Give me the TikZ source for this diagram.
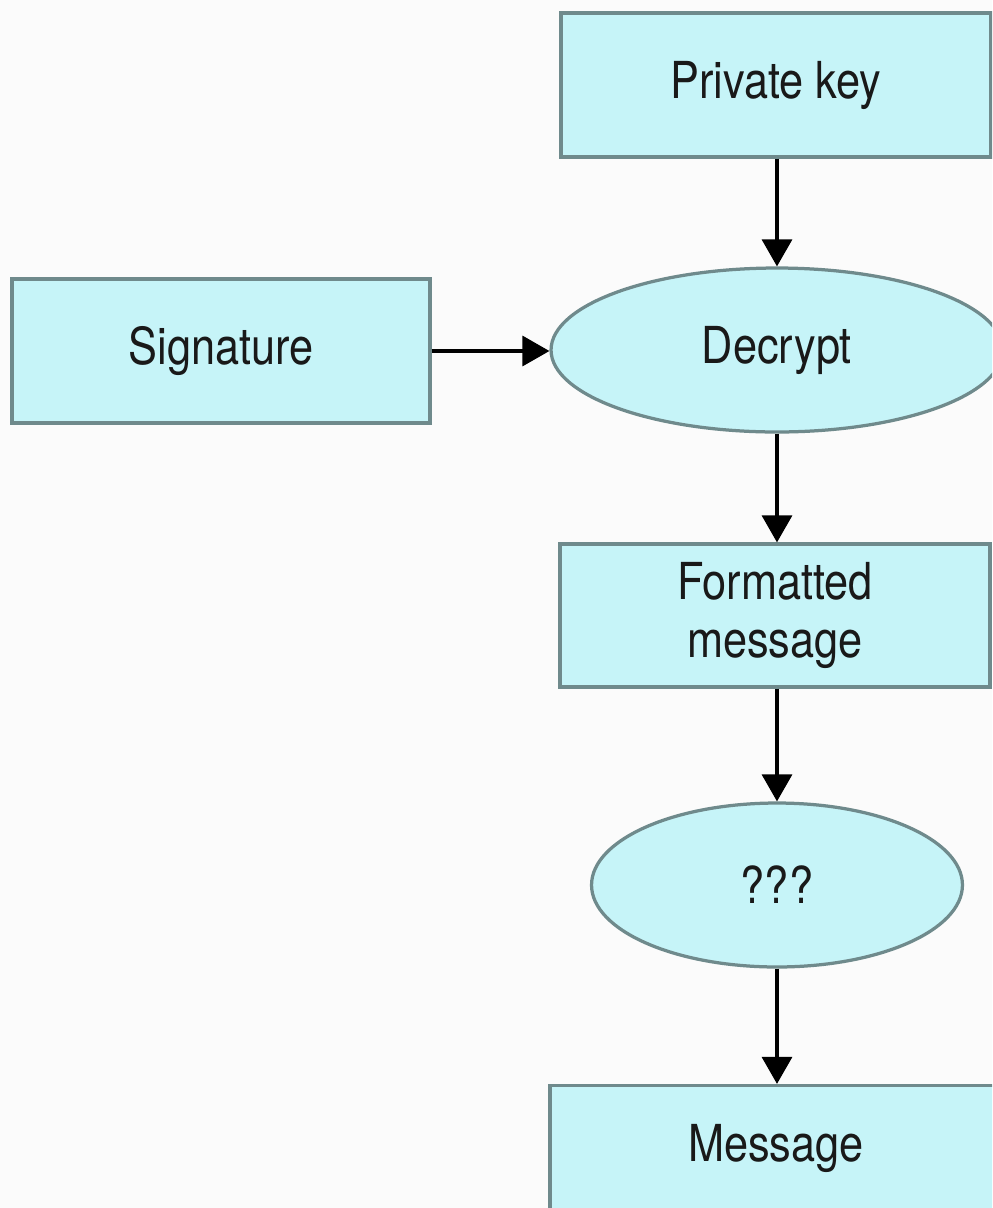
\documentclass[tikz,border=0pt]{standalone}
\usepackage{fontspec}
\setmainfont{TeX Gyre Heros}[FakeStretch=0.85]
\usetikzlibrary{shapes.geometric,arrows.meta}

\definecolor{boxfill}{HTML}{C6F4F8}
\definecolor{boxline}{HTML}{6F8A8C}
\definecolor{bgcol}{HTML}{FBFBFB}

\tikzset{
  stepbox/.style={draw=boxline, line width=0.065cm, fill=boxfill, rectangle,
    inner sep=0pt, align=center, text=black!90,
    font=\fontsize{29}{33}\selectfont},
  stepoval/.style={stepbox, ellipse},
  flow/.style={line width=0.065cm, -{Triangle[length=0.54cm,width=0.6cm]}}
}

\begin{document}
\begin{tikzpicture}[x=0.02cm, y=-0.02cm]
% Page area and background
\useasboundingbox (0,0) rectangle (992,1208);
\fill[bgcol] (0,0) rectangle (992,1208);
\clip (0,0) rectangle (992,1208);

% Boxes and ovals
\node[stepbox, minimum width=8.6cm, minimum height=2.88cm] (privkey) at (776,85) {Private key};
\node[stepoval, minimum width=9.04cm, minimum height=3.28cm] (decrypt) at (777,350) {Decrypt};
\node[stepbox, minimum width=8.36cm, minimum height=2.88cm] (signature) at (221,351) {Signature};
\node[stepbox, minimum width=8.6cm, minimum height=2.86cm] (formatted) at (775,615.5) {Formatted\\message};
\node[stepoval, minimum width=7.42cm, minimum height=3.28cm] (unknown) at (777,885) {???};
\node[stepbox, minimum width=9.04cm, minimum height=2.5cm] (message) at (776,1148) {Message};

% Arrows
\draw[flow] (privkey.south -| decrypt.north) -- (decrypt.north);
\draw[flow] (signature.east) -- (signature.east -| decrypt.west);
\draw[flow] (decrypt.south) -- (decrypt.south |- formatted.north);
\draw[flow] (formatted.south -| unknown.north) -- (unknown.north);
\draw[flow] (unknown.south) -- (unknown.south |- message.north);
\end{tikzpicture}
\end{document}
